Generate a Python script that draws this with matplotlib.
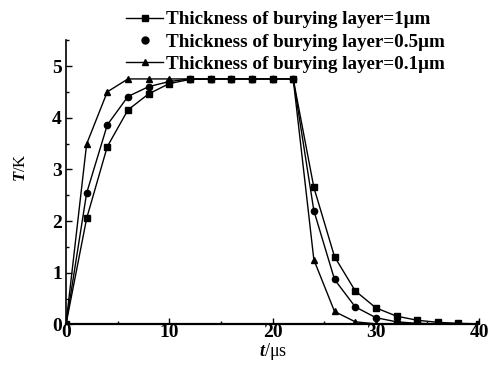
import matplotlib
matplotlib.use("Agg")
import matplotlib.pyplot as plt
from matplotlib.lines import Line2D
from matplotlib.ticker import MultipleLocator

plt.rcParams['font.family'] = ['Liberation Serif', 'DejaVu Serif']
plt.rcParams['font.weight'] = 'bold'
plt.rcParams['mathtext.fontset'] = 'custom'
plt.rcParams['mathtext.it'] = 'Liberation Serif:italic:bold'
plt.rcParams['mathtext.rm'] = 'Liberation Serif:bold'

t = [0, 2, 4, 6, 8, 10, 12, 14, 16, 18, 20, 22, 24, 26, 28, 30, 32, 34, 36, 38, 40]
T_1um = [0, 2.05, 3.44, 4.15, 4.46, 4.66, 4.74, 4.75, 4.75, 4.75, 4.75, 4.75,
         2.65, 1.31, 0.65, 0.32, 0.16, 0.08, 0.04, 0.02, 0.01]
T_05um = [0, 2.54, 3.86, 4.41, 4.60, 4.70, 4.75, 4.75, 4.75, 4.75, 4.75, 4.75,
          2.20, 0.87, 0.34, 0.13, 0.05, 0.02, 0.01, 0.0, 0.0]
T_01um = [0, 3.49, 4.50, 4.75, 4.75, 4.75, 4.75, 4.75, 4.75, 4.75, 4.75, 4.75,
          1.25, 0.25, 0.05, 0.01, 0.0, 0.0, 0.0, 0.0, 0.0]
labels = ["Thickness of burying layer=1\u03bcm",
          "Thickness of burying layer=0.5\u03bcm",
          "Thickness of burying layer=0.1\u03bcm"]

fig = plt.figure(figsize=(4.96, 3.72), dpi=100)
ax = fig.add_axes([0.133, 0.128, 0.833, 0.764])

style = dict(color='black', lw=1.0, ms=4.5)
ax.plot(t, T_1um, marker='s', **style)
ax.plot(t, T_05um, marker='o', **style)
ax.plot(t, T_01um, marker='^', **style)

ax.set_xlim(0, 40)
ax.set_ylim(0, 5.5)
ax.xaxis.set_major_locator(MultipleLocator(10))
ax.xaxis.set_minor_locator(MultipleLocator(5))
ax.yaxis.set_major_locator(MultipleLocator(1))
ax.yaxis.set_minor_locator(MultipleLocator(0.5))
ax.spines['top'].set_visible(False)
ax.spines['right'].set_visible(False)
ax.spines['left'].set_linewidth(1.2)
ax.spines['bottom'].set_linewidth(1.6)
ax.tick_params(which='both', direction='in', width=1.0)
ax.tick_params(which='major', length=4, labelsize=14)
ax.tick_params(axis='x', which='major', pad=0)
ax.tick_params(axis='y', which='major', pad=3)
ax.tick_params(which='minor', length=2)

ax.set_xlabel("$t$/\u03bcs", fontsize=13, labelpad=0)
ax.set_ylabel("$T$/K", fontsize=12)
ax.yaxis.set_label_coords(-0.09, 0.55)

handles = [
    Line2D([], [], color='black', lw=1.0, marker='s', ms=4.5),
    Line2D([], [], color='black', lw=0, marker='o', ms=5),
    Line2D([], [], color='black', lw=1.0, marker='^', ms=4.5),
]
fig.legend(handles, labels, loc='upper left', bbox_to_anchor=(0.255, 0.97),
           frameon=False, fontsize=13.7, handlelength=1.9, handletextpad=0.2,
           labelspacing=0.25, borderaxespad=0, borderpad=0)

fig.savefig("out.png", dpi=100)
